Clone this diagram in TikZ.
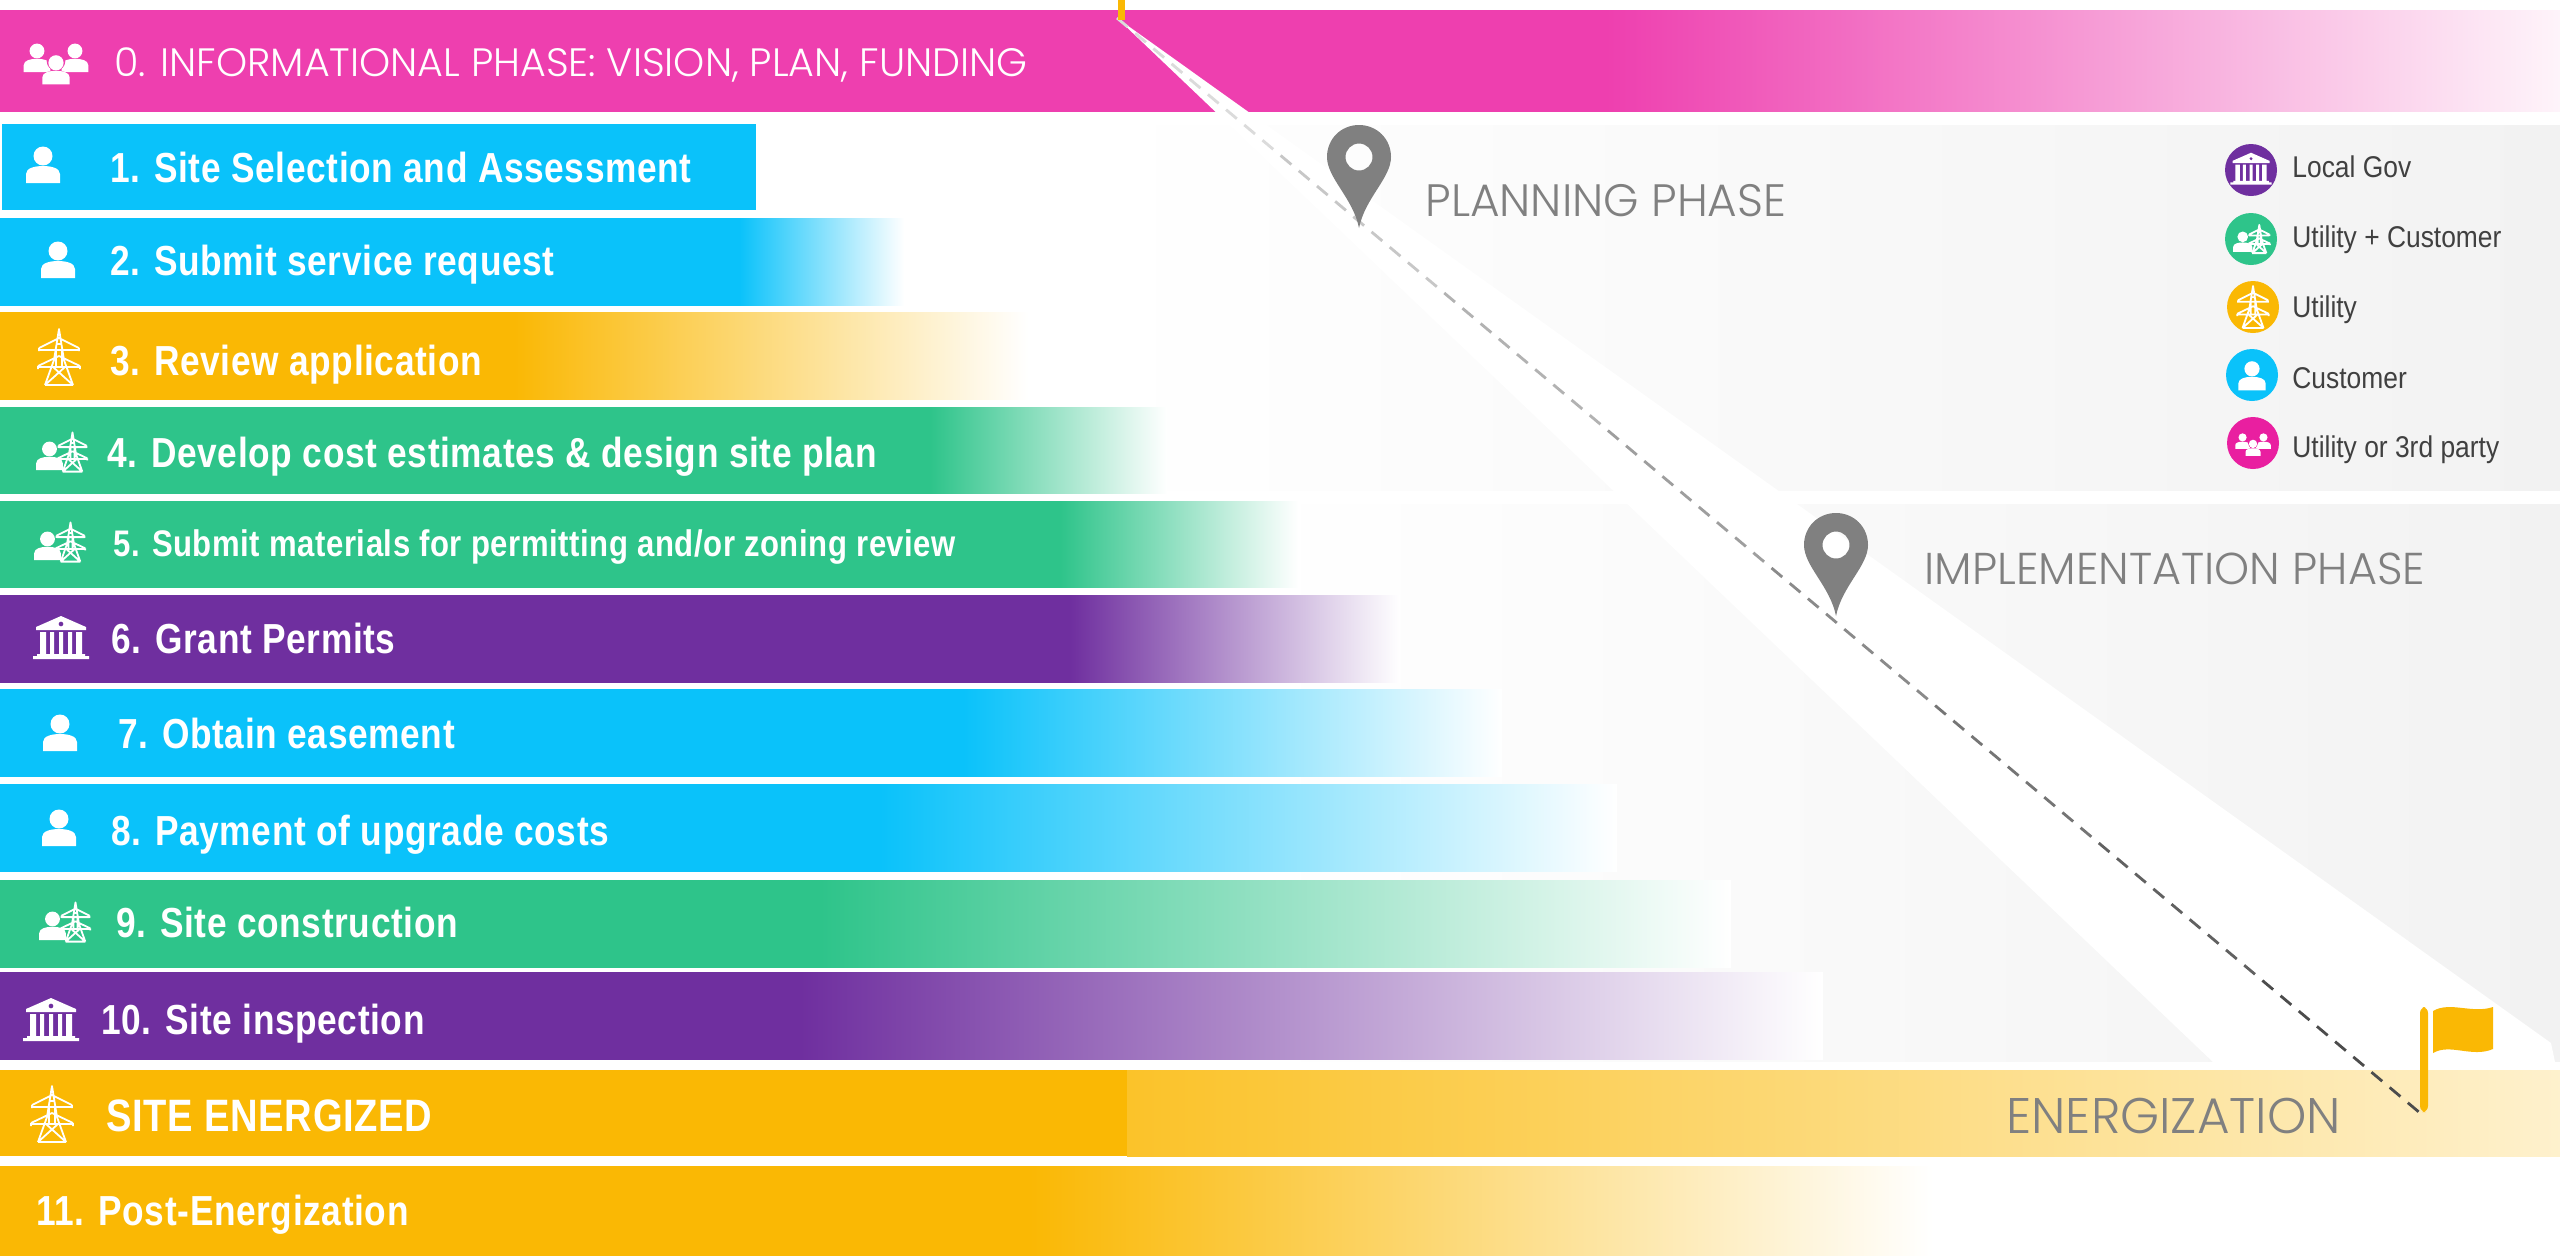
\documentclass[tikz,border=0pt]{standalone}
\usepackage{fontspec}
\usetikzlibrary{calc}
\newfontfamily\stepfont[FakeStretch=0.84,LetterSpace=1.5]{Liberation Sans Bold}
\newfontfamily\legendfont[FakeStretch=0.88]{Liberation Sans}
\newfontfamily\phasefont{Poppins Light}
\definecolor{barblue}{HTML}{0AC2FA}
\definecolor{baryellow}{HTML}{FAB804}
\definecolor{bargreen}{HTML}{2EC48A}
\definecolor{barpurple}{HTML}{6F2F9F}
\definecolor{barpink}{HTML}{EE3FAF}
\definecolor{barpinkend}{HTML}{FEF4FA}
\definecolor{legpink}{HTML}{E91FA0}
\definecolor{bandgray}{HTML}{F2F2F2}
\definecolor{pingray}{HTML}{808080}
% shapes of the icons, y runs downwards
\newcommand{\personshape}[1]{
	\fill[#1] (0,-9) circle (9.5);
	\fill[#1] (-17,18) -- (-17,9) .. controls (-17,3) and (-8,1) .. (0,1) .. controls (8,1) and (17,3) .. (17,9) -- (17,18) -- cycle;
}
\newcommand{\towershape}{
	\draw[white,line width=.9pt,line join=round]
		(-14,28) -- (-5,3) -- (0,-28) -- (5,3) -- (14,28)
		(-20,-9) -- (0,-19) -- (20,-9) (-20,-9) -- (-20,-6) (20,-9) -- (20,-6) (-20,-7) -- (20,-7)
		(-21,9) -- (0,-1) -- (21,9) (-21,9) -- (-21,12) (21,9) -- (21,12) (-21,10) -- (21,10)
		(-3,-13) -- (3,-13) (-6,10) -- (14,28) (6,10) -- (-14,28)
		(-14,28) -- (14,28) (-3,-7) -- (-3,10) (3,-7) -- (3,10);
}
\tikzset{
	steptext/.style={anchor=base west,text=white,inner sep=0pt,font=\stepfont\fontsize{21}{21}\selectfont},
	legtext/.style={anchor=base west,text=black!75,inner sep=0pt,font=\legendfont\fontsize{15}{15}\selectfont},
	phasetext/.style={anchor=base west,text=pingray,inner sep=0pt,font=\phasefont\fontsize{#1}{#1}\selectfont},
	legdot/.style={circle,inner sep=0pt,minimum size=26pt},
	dashline/.style={line width=1.4pt,dash pattern=on 7pt off 4.875pt},
	pics/person/.style={code={\personshape{white}}},
	pics/crowd/.style={code={
		\begin{scope}[shift={(-19,-5)},scale=.78]\personshape{white}\end{scope}
		\begin{scope}[shift={(19,-5)},scale=.78]\personshape{white}\end{scope}
		\begin{scope}[shift={(0,7)},scale=.98]\personshape{#1}\end{scope}
		\begin{scope}[shift={(0,7)},scale=.8]\personshape{white}\end{scope}
	}},
	pics/tower/.style={code={\towershape}},
	pics/temple/.style={code={
		\fill[white,even odd rule] (0,-22) -- (25,-11) -- (25,-8) -- (-25,-8) -- (-25,-11) -- cycle (0,-14) circle (2.5);
		\fill[white] (-21,-6) rectangle (-15,16) (-11,-6) rectangle (-7,16) (-2,-6) rectangle (2,16) (7,-6) rectangle (11,16) (15,-6) rectangle (21,16);
		\fill[white] (-24,16) rectangle (24,18) (-28,18) rectangle (28,21);
	}},
	pics/both/.style={code={
		\begin{scope}[shift={(-11.5,4)},scale=.78]\personshape{white}\end{scope}
		\begin{scope}[shift={(11.5,0)},scale=.7]\towershape\end{scope}
	}},
	pics/mappin/.style={code={
		\fill[pingray,even odd rule] (0,0) .. controls (-6,-30) and (-32,-50) .. (-32,-71) .. controls (-32,-89) and (-18,-103) .. (0,-103) .. controls (18,-103) and (32,-89) .. (32,-71) .. controls (32,-50) and (6,-30) .. (0,0) -- cycle (0,-71) circle (13.5);
	}}
}
% [end color] color, top, bottom, end of solid part, end of fade
\newcommand{\stepbar}[6][white]{
	\pgfmathsetmacro{\solidstop}{25+50*(#5/#6)}
	\edef\makebar{\noexpand\pgfdeclarehorizontalshading{bar#2#5}{100bp}{color(0bp)=(#2); color(25bp)=(#2); color(\solidstop bp)=(#2); color(75bp)=(#1); color(100bp)=(#1)}}
	\makebar
	\shade[shading=bar#2#5] (0,#3) rectangle (#6,#4);
}
\begin{document}
\begin{tikzpicture}[x=0.5pt,y=-0.5pt]
	\useasboundingbox (0,0) rectangle (2560,1255);
	\fill[white] (0,0) rectangle (2560,1255);

	% gray bands
	\shade[left color=white,right color=bandgray] (1100,125) rectangle (2560,490);
	\shade[left color=white,right color=bandgray] (1250,504) rectangle (2560,1061);

	% informational bar and white wedge
	\stepbar[barpinkend]{barpink}{10}{111}{1606}{2560}
	\fill[white] (1117,18) -- (2551,1043) -- (2555,1062) -- (2213,1062) -- cycle;

	% steps
	\fill[barblue] (2,124) rectangle (756,210);
	\stepbar{barblue}{218}{305}{739}{904}
	\stepbar{baryellow}{312}{399}{514}{1028}
	\stepbar{bargreen}{407}{493}{930}{1167}
	\stepbar{bargreen}{501}{587}{1060}{1298}
	\stepbar{barpurple}{595}{682}{1070}{1400}
	\stepbar{barblue}{689}{776}{963}{1502}
	\stepbar{barblue}{784}{871}{880}{1617}
	\stepbar{bargreen}{880}{967}{820}{1731}
	\stepbar{barpurple}{972}{1059}{800}{1823}
	\fill[baryellow] (0,1070) rectangle (1127,1156);
	\shade[left color=baryellow!85!white,right color=baryellow!20!white] (1127,1070) rectangle (2560,1156);
	\stepbar{baryellow}{1166}{1255}{1030}{1933}

	% dashed route
	\coordinate (apex) at (1117,18);
	\coordinate (foot) at (2426,1118);
	\draw[dashline,black!14] (apex) -- ($(apex)!0.125!(foot)$);
	\draw[dashline,black!22] ($(apex)!0.125!(foot)$) -- ($(apex)!0.25!(foot)$);
	\draw[dashline,black!30] ($(apex)!0.25!(foot)$) -- ($(apex)!0.375!(foot)$);
	\draw[dashline,black!38] ($(apex)!0.375!(foot)$) -- ($(apex)!0.5!(foot)$);
	\draw[dashline,black!46] ($(apex)!0.5!(foot)$) -- ($(apex)!0.625!(foot)$);
	\draw[dashline,black!54] ($(apex)!0.625!(foot)$) -- ($(apex)!0.75!(foot)$);
	\draw[dashline,black!62] ($(apex)!0.75!(foot)$) -- ($(apex)!0.875!(foot)$);
	\draw[dashline,black!70] ($(apex)!0.875!(foot)$) -- (foot);
	\fill[baryellow] (1118,0) rectangle (1125,20);

	% pins and flag
	\pic (pin1) at (1359,228) {mappin};
	\pic (pin2) at (1836,616) {mappin};
	\fill[baryellow,rounded corners=3pt] (2420,1007) rectangle (2428,1112);
	\fill[baryellow] (2433,1011) .. controls (2450,1001) and (2472,1014) .. (2493,1007) -- (2493,1049) .. controls (2472,1058) and (2450,1043) .. (2433,1053) -- cycle;

	% phase names
	\node (ph0) [phasetext=19.8,text=white] at (114,76) {0. INFORMATIONAL PHASE: VISION, PLAN, FUNDING};
	\node (ph1) [phasetext=22.7] at (1425,216) {PLANNING PHASE};
	\node (ph2) [phasetext=22.3] at (1924,584) {IMPLEMENTATION PHASE};
	\node (ph3) [phasetext=25] at (2006,1133) {ENERGIZATION};

	% step texts
	\node (t1) [steptext] at (110,182) {1. Site Selection and Assessment};
	\node (t2) [steptext] at (110,275) {2. Submit service request};
	\node (t3) [steptext] at (110,375) {3. Review application};
	\node (t4) [steptext] at (107,467) {4. Develop cost estimates \& design site plan};
	\node (t5) [steptext,font=\stepfont\fontsize{18.5}{18.5}\selectfont] at (113,556) {5. Submit materials for permitting and/or zoning review};
	\node (t6) [steptext] at (111,653) {6. Grant Permits};
	\node (t7) [steptext] at (118,748) {7. Obtain easement};
	\node (t8) [steptext] at (111,845) {8. Payment of upgrade costs};
	\node (t9) [steptext] at (116,937) {9. Site construction};
	\node (t10) [steptext] at (101,1034) {10. Site inspection};
	\node (t11) [steptext,font=\stepfont\fontsize{22.7}{22.7}\selectfont] at (106,1131) {SITE ENERGIZED};
	\node (t12) [steptext] at (36,1225) {11. Post-Energization};

	% step icons
	\pic (i0) at (56,63) {crowd=barpink};
	\pic (i1) at (43,165) {person};
	\pic (i2) at (58,260) {person};
	\pic (i3) at (59,357) {tower};
	\pic (i4) at (61,452) {both};
	\pic (i5) at (59,542) {both};
	\pic (i6) at (61,638) {temple};
	\pic (i7) at (60,733) {person};
	\pic (i8) at (59,828) {person};
	\pic (i9) at (64,922) {both};
	\pic (i10) at (51,1020) {temple};
	\pic (i11) at (52,1114) {tower};

	% legend
	\node (c1) [legdot,fill=barpurple] at (2251,170) {};
	\node (c2) [legdot,fill=bargreen] at (2251,239) {};
	\node (c3) [legdot,fill=baryellow] at (2253,307) {};
	\node (c4) [legdot,fill=barblue] at (2252,375) {};
	\node (c5) [legdot,fill=legpink] at (2253,443) {};
	\pic (l1) [scale=.74] at (2251,169) {temple};
	\pic (l2) [scale=.72] at (2251,239) {both};
	\pic (l3) [scale=.75] at (2253,307) {tower};
	\pic (l4) [scale=.8] at (2252,376) {person};
	\pic (l5) [scale=.55] at (2253,444) {crowd=legpink};
	\node (n1) [legtext] at (2292,177) {Local Gov};
	\node (n2) [legtext] at (2292,247) {Utility + Customer};
	\node (n3) [legtext] at (2292,317) {Utility};
	\node (n4) [legtext] at (2292,388) {Customer};
	\node (n5) [legtext] at (2292,457) {Utility or 3rd party};
\end{tikzpicture}
\end{document}
